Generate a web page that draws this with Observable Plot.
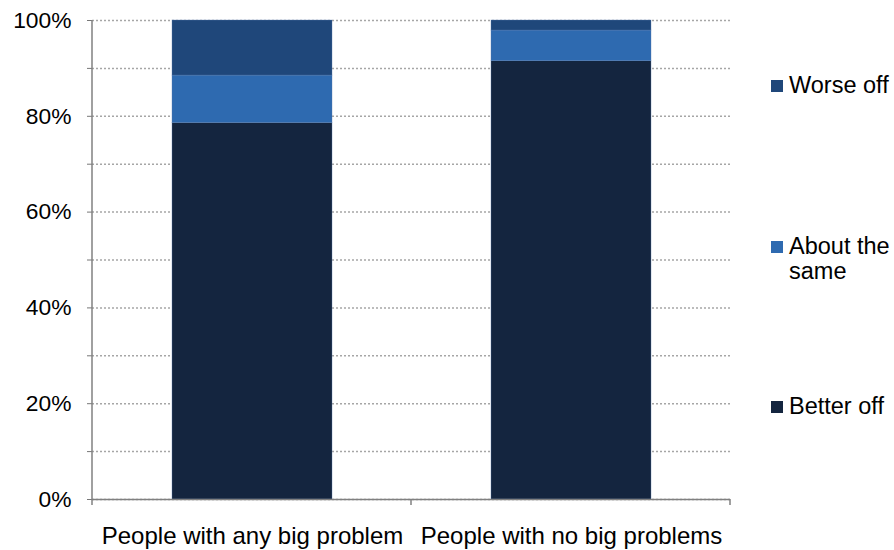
<!DOCTYPE html>
<html>
<head>
<meta charset="utf-8">
<script src="https://cdn.jsdelivr.net/npm/d3@7"></script>
<script src="https://cdn.jsdelivr.net/npm/@observablehq/plot@0.6"></script>
<style>
  html, body { margin: 0; padding: 0; background: #fff; }
  #wrap { position: relative; width: 894px; height: 550px; font-family: "Liberation Sans", Arial, sans-serif; }
  .leg { position: absolute; left: 771px; font-size: 23.5px; color: #000; line-height: 25px; font-family: "Liberation Sans", Arial, sans-serif; }
  .leg .sw { position: absolute; left: 0; width: 12px; height: 12px; }
  .leg .tx { position: absolute; left: 18px; white-space: nowrap; }
</style>
</head>
<body>
<div id="wrap"></div>
<script>
const categories = ["People with any big problem", "People with no big problems"];
const series = ["Better off", "About the same", "Worse off"];
const betterOff = [0.786, 0.915];
const aboutSame = [0.099, 0.064];
const worseOff = [0.115, 0.021];
const colors = ["#14253F", "#2E6AB0", "#1F477A"];
const yTicks = d3.range(0, 1.0001, 0.1);

const rows = [];
categories.forEach((c, i) => {
  rows.push({cat: c, series: series[0], value: betterOff[i]});
  rows.push({cat: c, series: series[1], value: aboutSame[i]});
  rows.push({cat: c, series: series[2], value: worseOff[i]});
});

const font = "'Liberation Sans', Arial, sans-serif";
const chart = Plot.plot({
  width: 894,
  height: 550,
  marginLeft: 92,
  marginRight: 164,
  marginTop: 20,
  marginBottom: 51,
  style: {fontFamily: font, fontSize: "22.5px", color: "#000", background: "#fff"},
  x: {domain: categories, paddingInner: 0.5, paddingOuter: 0.25, label: null},
  y: {domain: [0, 1], label: null},
  color: {domain: series, range: colors},
  marks: [
    Plot.gridY(yTicks, {stroke: "#a6a6a6", strokeOpacity: 1, strokeDasharray: "2,2", strokeWidth: 1.5}),
    Plot.barY(rows, {x: "cat", y: "value", fill: "series", order: series, stroke: "#5a7db0", strokeWidth: 0.6, strokeOpacity: 0.6}),
    Plot.axisY(yTicks, {tickSize: 5, tickPadding: 16, stroke: "#777", tickFormat: d => (Math.round(d * 100) % 20 === 0 ? Math.round(d * 100) + "%" : ""), fontSize: "22.8px", fill: "#000"}),
    Plot.axisX({tickSize: 0, tickPadding: 27, fontSize: "24px", fill: "#000"}),
    Plot.ruleY([0], {stroke: "#808080", strokeWidth: 1.5})
  ]
});

// category boundary tick marks on the x axis, placed from the x scale
const xs = chart.scale("x");
const ys = chart.scale("y");
const y0 = ys.apply(0);
const step = xs.step;
const r0 = xs.range[0];
const svg = d3.select(chart);
[0, 1, 2].forEach(k => {
  const xp = r0 + k * step;
  svg.append("line").attr("x1", xp).attr("x2", xp).attr("y1", y0).attr("y2", y0 + 6)
    .attr("stroke", "#808080").attr("stroke-width", 1.5);
});
svg.append("line").attr("x1", r0).attr("x2", r0).attr("y1", ys.apply(1)).attr("y2", y0)
  .attr("stroke", "#808080").attr("stroke-width", 1.5);

const wrap = document.getElementById("wrap");
wrap.appendChild(chart);

// legend
const legendItems = [
  {label: ["Worse off"], color: colors[2], top: 73},
  {label: ["About the", "same"], color: colors[1], top: 234},
  {label: ["Better off"], color: colors[0], top: 394}
];
legendItems.forEach(it => {
  const d = document.createElement("div");
  d.className = "leg";
  d.style.top = it.top + "px";
  d.innerHTML = `<div class="sw" style="top:6.5px;background:${it.color}"></div><div class="tx">${it.label.join("<br>")}</div>`;
  wrap.appendChild(d);
});
</script>
</body>
</html>
